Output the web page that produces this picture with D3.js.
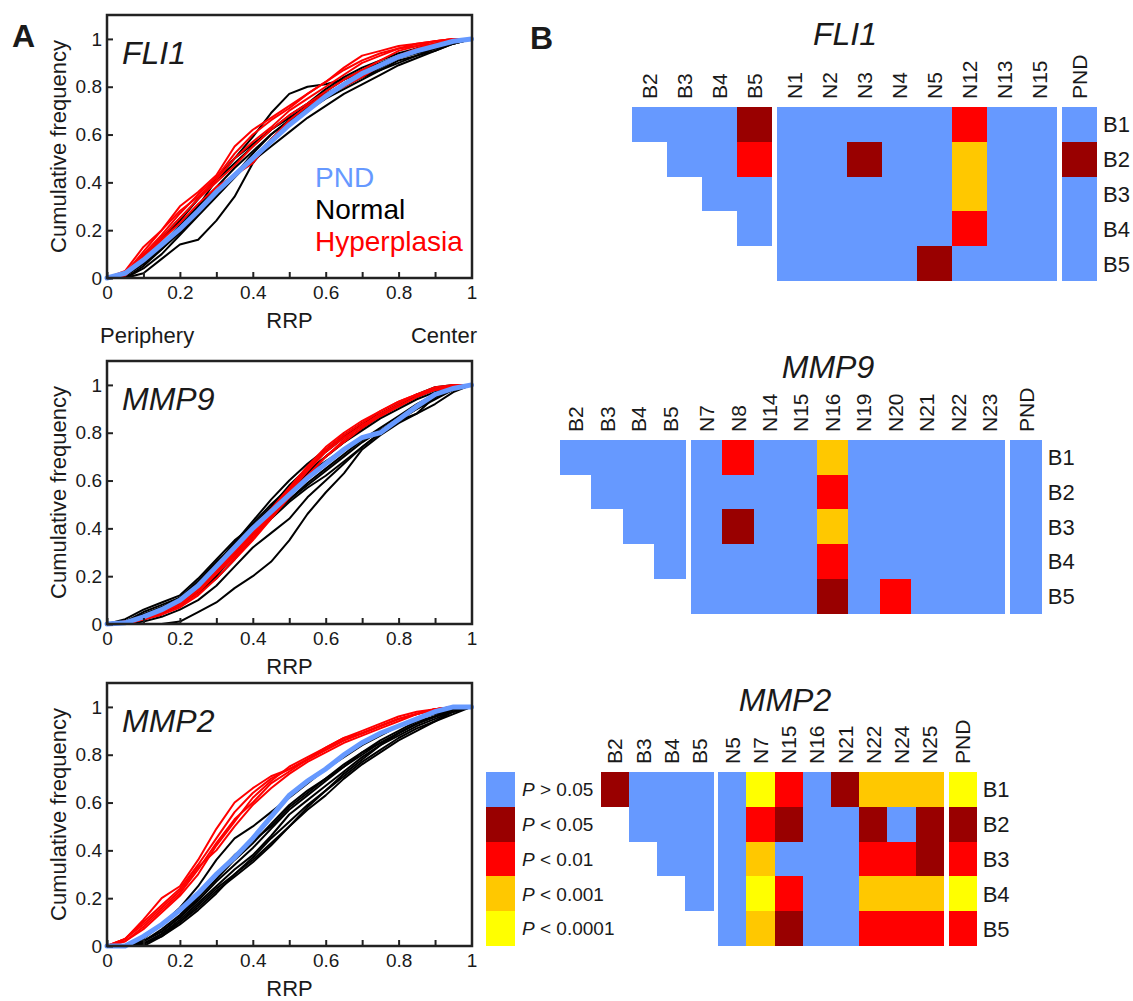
<!DOCTYPE html>
<html>

<head>
    <meta charset="UTF-8">
    <title>RRP cumulative frequency</title>
    <style>
        body { margin: 0; background: #fff; }
        svg text { font-family: "Liberation Sans", Arial, sans-serif; fill: #1a1a1a; }
    </style>
</head>

<body>
    <script src="https://cdn.jsdelivr.net/npm/d3@7/dist/d3.min.js"></script>

    <svg id="svg" width="1133" height="1001"></svg>

    <script>
        // ---- data ----
        // every curve is given as cumulative frequency at these RRP values
        const rrpGrid = [0, 0.05, 0.1, 0.15, 0.2, 0.25, 0.3, 0.35, 0.4, 0.45, 0.5, 0.55, 0.6, 0.65, 0.7, 0.75, 0.8, 0.85, 0.9, 0.95, 1];

        const fli1PND = [0, 0.02, 0.075, 0.14, 0.205, 0.28, 0.36, 0.43, 0.5, 0.57, 0.64, 0.7, 0.76, 0.81, 0.855, 0.89, 0.925, 0.95, 0.97, 0.99, 1];
        const fli1Normal = [
            [0, 0, 0.02, 0.08, 0.14, 0.16, 0.24, 0.34, 0.48, 0.57, 0.64, 0.7, 0.75, 0.79, 0.83, 0.87, 0.9, 0.93, 0.96, 0.99, 1],
            [0, 0.01, 0.06, 0.13, 0.21, 0.3, 0.41, 0.5, 0.59, 0.69, 0.77, 0.8, 0.81, 0.83, 0.86, 0.89, 0.92, 0.95, 0.97, 0.99, 1],
            [0, 0, 0.05, 0.12, 0.2, 0.28, 0.36, 0.43, 0.49, 0.55, 0.61, 0.67, 0.72, 0.77, 0.81, 0.85, 0.89, 0.92, 0.95, 0.98, 1],
            [0, 0.02, 0.08, 0.16, 0.24, 0.33, 0.42, 0.5, 0.56, 0.62, 0.67, 0.72, 0.78, 0.83, 0.87, 0.9, 0.93, 0.96, 0.98, 0.99, 1],
            [0, 0.01, 0.06, 0.12, 0.19, 0.27, 0.35, 0.43, 0.52, 0.6, 0.66, 0.72, 0.77, 0.81, 0.84, 0.87, 0.91, 0.93, 0.95, 0.98, 1],
            [0, 0.01, 0.07, 0.14, 0.22, 0.3, 0.38, 0.46, 0.53, 0.6, 0.66, 0.71, 0.76, 0.8, 0.84, 0.88, 0.92, 0.94, 0.96, 0.98, 1],
            [0, 0, 0.04, 0.1, 0.18, 0.26, 0.34, 0.42, 0.5, 0.58, 0.65, 0.71, 0.76, 0.81, 0.85, 0.89, 0.92, 0.95, 0.97, 0.99, 1],
            [0, 0.02, 0.09, 0.17, 0.25, 0.33, 0.41, 0.48, 0.55, 0.62, 0.68, 0.73, 0.79, 0.84, 0.88, 0.91, 0.94, 0.96, 0.98, 0.99, 1]
        ];
        const fli1Hyper = [
            [0, 0.03, 0.13, 0.2, 0.3, 0.36, 0.43, 0.55, 0.62, 0.67, 0.72, 0.77, 0.82, 0.88, 0.93, 0.95, 0.97, 0.98, 0.99, 1, 1],
            [0, 0.02, 0.1, 0.18, 0.27, 0.35, 0.42, 0.52, 0.6, 0.66, 0.71, 0.77, 0.82, 0.87, 0.91, 0.94, 0.96, 0.98, 0.99, 1, 1],
            [0, 0.01, 0.08, 0.16, 0.23, 0.31, 0.38, 0.43, 0.48, 0.58, 0.66, 0.72, 0.77, 0.8, 0.84, 0.89, 0.93, 0.96, 0.98, 0.99, 1],
            [0, 0.02, 0.11, 0.2, 0.28, 0.34, 0.41, 0.5, 0.57, 0.63, 0.7, 0.75, 0.8, 0.85, 0.9, 0.93, 0.96, 0.97, 0.99, 1, 1],
            [0, 0.02, 0.09, 0.17, 0.25, 0.33, 0.4, 0.47, 0.55, 0.62, 0.68, 0.73, 0.78, 0.83, 0.87, 0.91, 0.95, 0.97, 0.98, 0.99, 1]
        ];

        const mmp9PND = [0, 0.005, 0.03, 0.06, 0.1, 0.16, 0.24, 0.32, 0.4, 0.47, 0.54, 0.61, 0.67, 0.73, 0.78, 0.8, 0.855, 0.91, 0.96, 0.985, 1];
        const mmp9Normal = [
            [0, 0, 0, 0, 0.01, 0.05, 0.09, 0.15, 0.2, 0.26, 0.35, 0.46, 0.55, 0.63, 0.73, 0.79, 0.84, 0.88, 0.95, 0.98, 1],
            [0, 0, 0.01, 0.03, 0.06, 0.1, 0.16, 0.24, 0.32, 0.38, 0.44, 0.53, 0.6, 0.67, 0.74, 0.8, 0.86, 0.9, 0.94, 0.98, 1],
            [0, 0.02, 0.06, 0.09, 0.12, 0.19, 0.27, 0.35, 0.41, 0.49, 0.58, 0.65, 0.72, 0.78, 0.84, 0.88, 0.92, 0.96, 0.99, 1, 1],
            [0, 0.01, 0.05, 0.08, 0.11, 0.17, 0.25, 0.34, 0.42, 0.5, 0.57, 0.64, 0.7, 0.76, 0.81, 0.86, 0.9, 0.94, 0.97, 0.99, 1],
            [0, 0.01, 0.04, 0.07, 0.1, 0.15, 0.22, 0.31, 0.39, 0.47, 0.55, 0.63, 0.7, 0.76, 0.82, 0.87, 0.91, 0.95, 0.98, 0.99, 1],
            [0, 0, 0.02, 0.05, 0.09, 0.14, 0.21, 0.29, 0.37, 0.45, 0.52, 0.59, 0.65, 0.71, 0.77, 0.82, 0.87, 0.92, 0.96, 0.99, 1],
            [0, 0, 0.02, 0.05, 0.08, 0.13, 0.2, 0.29, 0.38, 0.48, 0.57, 0.63, 0.68, 0.73, 0.77, 0.81, 0.85, 0.88, 0.92, 0.97, 1],
            [0, 0.01, 0.03, 0.06, 0.1, 0.16, 0.25, 0.34, 0.43, 0.52, 0.6, 0.67, 0.73, 0.79, 0.84, 0.88, 0.92, 0.95, 0.98, 0.99, 1],
            [0, 0.01, 0.04, 0.07, 0.11, 0.18, 0.26, 0.33, 0.4, 0.46, 0.52, 0.58, 0.64, 0.7, 0.76, 0.81, 0.86, 0.91, 0.95, 0.99, 1],
            [0, 0, 0.02, 0.04, 0.08, 0.13, 0.19, 0.27, 0.36, 0.44, 0.51, 0.57, 0.62, 0.68, 0.74, 0.8, 0.85, 0.9, 0.95, 0.98, 1]
        ];
        const mmp9Hyper = [
            [0, 0, 0.02, 0.04, 0.07, 0.13, 0.21, 0.29, 0.37, 0.46, 0.55, 0.64, 0.72, 0.78, 0.83, 0.88, 0.92, 0.96, 0.99, 1, 1],
            [0, 0.01, 0.03, 0.05, 0.08, 0.14, 0.22, 0.3, 0.38, 0.47, 0.56, 0.65, 0.73, 0.79, 0.84, 0.89, 0.93, 0.96, 0.98, 0.99, 1],
            [0, 0, 0.02, 0.04, 0.07, 0.12, 0.19, 0.27, 0.35, 0.44, 0.53, 0.62, 0.7, 0.77, 0.83, 0.87, 0.91, 0.95, 0.98, 0.99, 1],
            [0, 0.01, 0.02, 0.05, 0.09, 0.15, 0.23, 0.31, 0.39, 0.48, 0.57, 0.66, 0.74, 0.8, 0.85, 0.89, 0.93, 0.96, 0.98, 1, 1],
            [0, 0, 0.02, 0.05, 0.08, 0.14, 0.21, 0.28, 0.36, 0.45, 0.54, 0.62, 0.7, 0.76, 0.82, 0.87, 0.91, 0.95, 0.98, 0.99, 1]
        ];

        const mmp2PND = [0, 0, 0.04, 0.09, 0.15, 0.22, 0.3, 0.37, 0.45, 0.54, 0.63, 0.69, 0.74, 0.8, 0.85, 0.89, 0.92, 0.95, 0.98, 1, 1];
        const mmp2Normal = [
            [0, 0, 0, 0.04, 0.1, 0.17, 0.24, 0.3, 0.36, 0.43, 0.5, 0.57, 0.63, 0.7, 0.76, 0.81, 0.86, 0.9, 0.94, 0.98, 1],
            [0, 0, 0.01, 0.05, 0.11, 0.18, 0.25, 0.32, 0.38, 0.46, 0.55, 0.61, 0.67, 0.73, 0.79, 0.84, 0.89, 0.93, 0.96, 0.98, 1],
            [0, 0, 0.02, 0.06, 0.12, 0.19, 0.27, 0.34, 0.41, 0.49, 0.57, 0.63, 0.69, 0.75, 0.8, 0.85, 0.89, 0.93, 0.96, 0.99, 1],
            [0, 0, 0.01, 0.05, 0.1, 0.16, 0.23, 0.29, 0.35, 0.42, 0.5, 0.58, 0.65, 0.71, 0.77, 0.82, 0.87, 0.91, 0.94, 0.97, 1],
            [0, 0, 0.03, 0.09, 0.16, 0.25, 0.36, 0.45, 0.5, 0.56, 0.62, 0.68, 0.74, 0.79, 0.84, 0.88, 0.92, 0.95, 0.97, 0.99, 1],
            [0, 0, 0.02, 0.06, 0.12, 0.2, 0.28, 0.36, 0.43, 0.51, 0.59, 0.65, 0.7, 0.76, 0.81, 0.86, 0.9, 0.94, 0.96, 0.99, 1],
            [0, 0, 0.01, 0.04, 0.09, 0.15, 0.22, 0.3, 0.37, 0.45, 0.52, 0.59, 0.65, 0.72, 0.78, 0.84, 0.88, 0.92, 0.95, 0.98, 1],
            [0, 0, 0.02, 0.07, 0.13, 0.21, 0.3, 0.38, 0.44, 0.5, 0.58, 0.64, 0.7, 0.75, 0.81, 0.85, 0.89, 0.93, 0.96, 0.99, 1]
        ];
        const mmp2Hyper = [
            [0, 0.03, 0.11, 0.2, 0.25, 0.36, 0.49, 0.6, 0.66, 0.71, 0.74, 0.78, 0.83, 0.87, 0.89, 0.92, 0.95, 0.97, 0.99, 1, 1],
            [0, 0.03, 0.1, 0.17, 0.24, 0.34, 0.45, 0.56, 0.64, 0.7, 0.74, 0.78, 0.82, 0.86, 0.89, 0.92, 0.95, 0.97, 0.99, 1, 1],
            [0, 0.02, 0.08, 0.15, 0.22, 0.32, 0.43, 0.53, 0.6, 0.68, 0.73, 0.78, 0.82, 0.86, 0.89, 0.92, 0.95, 0.97, 0.99, 1, 1],
            [0, 0.03, 0.09, 0.16, 0.23, 0.33, 0.4, 0.5, 0.59, 0.66, 0.72, 0.77, 0.81, 0.85, 0.88, 0.91, 0.94, 0.97, 0.99, 1, 1],
            [0, 0.02, 0.07, 0.14, 0.21, 0.3, 0.42, 0.52, 0.62, 0.69, 0.75, 0.79, 0.83, 0.87, 0.9, 0.93, 0.96, 0.98, 0.99, 1, 1]
        ];

        const xTickVals = [0, 0.1, 0.2, 0.3, 0.4, 0.5, 0.6, 0.7, 0.8, 0.9, 1];
        const yTickVals = [0, 0.2, 0.4, 0.6, 0.8, 1];

        // significance classes: 0 P>0.05, 1 P<0.05, 2 P<0.01, 3 P<0.001, 4 P<0.0001
        const pLabels = ["> 0.05", "< 0.05", "< 0.01", "< 0.001", "< 0.0001"];
        const pColors = ["#6699ff", "#990000", "#ff0000", "#ffc800", "#ffff00"];

        const rowNames = ["B1", "B2", "B3", "B4", "B5"];
        const bCols = ["B2", "B3", "B4", "B5"];

        const fli1NCols = ["N1", "N2", "N3", "N4", "N5", "N12", "N13", "N15"];
        const fli1BB = [[0, 0, 0, 1], [null, 0, 0, 2], [null, null, 0, 0], [null, null, null, 0], [null, null, null, null]];
        const fli1BN = [
            [0, 0, 0, 0, 0, 2, 0, 0],
            [0, 0, 1, 0, 0, 3, 0, 0],
            [0, 0, 0, 0, 0, 3, 0, 0],
            [0, 0, 0, 0, 0, 2, 0, 0],
            [0, 0, 0, 0, 1, 0, 0, 0]
        ];
        const fli1BP = [0, 1, 0, 0, 0];

        const mmp9NCols = ["N7", "N8", "N14", "N15", "N16", "N19", "N20", "N21", "N22", "N23"];
        const mmp9BB = [[0, 0, 0, 0], [null, 0, 0, 0], [null, null, 0, 0], [null, null, null, 0], [null, null, null, null]];
        const mmp9BN = [
            [0, 2, 0, 0, 3, 0, 0, 0, 0, 0],
            [0, 0, 0, 0, 2, 0, 0, 0, 0, 0],
            [0, 1, 0, 0, 3, 0, 0, 0, 0, 0],
            [0, 0, 0, 0, 2, 0, 0, 0, 0, 0],
            [0, 0, 0, 0, 1, 0, 2, 0, 0, 0]
        ];
        const mmp9BP = [0, 0, 0, 0, 0];

        const mmp2NCols = ["N5", "N7", "N15", "N16", "N21", "N22", "N24", "N25"];
        const mmp2BB = [[1, 0, 0, 0], [null, 0, 0, 0], [null, null, 0, 0], [null, null, null, 0], [null, null, null, null]];
        const mmp2BN = [
            [0, 4, 2, 0, 1, 3, 3, 3],
            [0, 2, 1, 0, 0, 1, 0, 1],
            [0, 3, 0, 0, 0, 2, 2, 1],
            [0, 4, 2, 0, 0, 3, 3, 3],
            [0, 3, 1, 0, 0, 2, 2, 2]
        ];
        const mmp2BP = [4, 1, 2, 4, 2];

        // ---- drawing ----
        const svg = d3.select("#svg");
        const plotLeft = 107, plotRight = 472, plotH = 263;

        const drawCdf = function (top, gene, pnd, normals, hypers) {
            const bottom = top + plotH;
            const x = d3.scaleLinear().domain([0, 1]).range([plotLeft, plotRight - 0.5]);
            const y = d3.scaleLinear().domain([0, 1.1]).range([bottom, top]);
            const g = svg.append("g");

            const line = d3.line()
                .x((d, i) => x(rrpGrid[i]))
                .y(d => y(d));

            g.append("g").selectAll("path").data(normals).enter().append("path")
                .attr("d", line).attr("fill", "none")
                .attr("stroke", "#000").attr("stroke-width", 2).attr("stroke-linejoin", "round");
            g.append("g").selectAll("path").data(hypers).enter().append("path")
                .attr("d", line).attr("fill", "none")
                .attr("stroke", "#ff0000").attr("stroke-width", 2).attr("stroke-linejoin", "round");
            g.append("path").datum(pnd)
                .attr("d", line).attr("fill", "none")
                .attr("stroke", "#6699ff").attr("stroke-width", 5).attr("stroke-linecap", "round");

            // inward ticks
            const fmt = d3.format("");
            const ax = g.append("g").attr("transform", `translate(0,${bottom})`)
                .call(d3.axisBottom(x).tickValues(xTickVals).tickSize(-6).tickPadding(8)
                    .tickFormat((d, i) => i % 2 ? "" : fmt(d)));
            const ay = g.append("g").attr("transform", `translate(${plotLeft},0)`)
                .call(d3.axisLeft(y).tickValues(yTickVals).tickSize(-6).tickPadding(5).tickFormat(fmt));
            [ax, ay].forEach(a => {
                a.select(".domain").remove();
                a.selectAll("line").attr("stroke", "#222").attr("stroke-width", 2);
                a.selectAll("text").attr("font-size", 19).attr("font-family", null).attr("fill", "#1a1a1a");
            });

            g.append("rect")
                .attr("x", plotLeft).attr("y", top)
                .attr("width", plotRight - plotLeft).attr("height", plotH)
                .attr("fill", "none").attr("stroke", "#222").attr("stroke-width", 2.5);

            g.append("text").attr("x", 122).attr("y", top + 49)
                .attr("font-size", 32).attr("font-style", "italic").text(gene);

            g.append("text").attr("x", (plotLeft + plotRight) / 2).attr("y", bottom + 50)
                .attr("text-anchor", "middle").attr("font-size", 22).text("RRP");

            g.append("text")
                .attr("transform", `translate(66,${(top + bottom) / 2}) rotate(-90)`)
                .attr("text-anchor", "middle").attr("font-size", 22).text("Cumulative frequency");
            return g;
        }

        const p1 = drawCdf(15, "FLI1", fli1PND, fli1Normal, fli1Hyper);
        drawCdf(361, "MMP9", mmp9PND, mmp9Normal, mmp9Hyper);
        drawCdf(683, "MMP2", mmp2PND, mmp2Normal, mmp2Hyper);

        // legend of panel A
        const legendA = [["PND", "#6699ff"], ["Normal", "#000"], ["Hyperplasia", "#ff0000"]];
        p1.selectAll(".leg").data(legendA).enter().append("text")
            .attr("x", 315).attr("y", (d, i) => 187 + i * 32)
            .attr("font-size", 28).style("fill", d => d[1]).text(d => d[0]);
        p1.append("text").attr("x", 100).attr("y", 343).attr("font-size", 22).text("Periphery");
        p1.append("text").attr("x", 477).attr("y", 343).attr("text-anchor", "end").attr("font-size", 22).text("Center");

        const drawHeat = function (opt) {
            const g = svg.append("g");
            const bEnd = opt.x0 + bCols.length * opt.colW;
            const nStart = bEnd + opt.gap;
            const nEnd = nStart + opt.nCols.length * opt.colW;
            const pStart = nEnd + opt.gap;
            const xB = d3.scaleBand().domain(bCols).range([opt.x0, bEnd]);
            const xN = d3.scaleBand().domain(opt.nCols).range([nStart, nEnd]);
            const xP = d3.scaleBand().domain(["PND"]).range([pStart, pStart + opt.colW]);
            const y = d3.scaleBand().domain(rowNames).range([opt.top, opt.top + rowNames.length * opt.rowH]);

            const cells = [];
            rowNames.forEach((r, i) => {
                bCols.forEach((c, j) => { if (opt.bb[i][j] != null) cells.push({ r: r, x: xB(c), w: xB.bandwidth(), v: opt.bb[i][j] }); });
                opt.nCols.forEach((c, j) => cells.push({ r: r, x: xN(c), w: xN.bandwidth(), v: opt.bn[i][j] }));
                cells.push({ r: r, x: xP("PND"), w: xP.bandwidth(), v: opt.bp[i] });
            });
            // snap cell edges to whole pixels so neighbours meet without seams
            g.selectAll("rect").data(cells).enter().append("rect")
                .attr("x", d => Math.round(d.x))
                .attr("y", d => Math.round(y(d.r)))
                .attr("width", d => Math.round(d.x + d.w) - Math.round(d.x))
                .attr("height", d => Math.round(y(d.r) + y.bandwidth()) - Math.round(y(d.r)))
                .attr("shape-rendering", "crispEdges")
                .attr("fill", d => pColors[d.v]);

            const cols = bCols.map(c => [c, xB(c) + xB.bandwidth() / 2])
                .concat(opt.nCols.map(c => [c, xN(c) + xN.bandwidth() / 2]))
                .concat([["PND", xP("PND") + xP.bandwidth() / 2]]);
            g.selectAll(".col").data(cols).enter().append("text")
                .attr("transform", d => `translate(${d[1]},${opt.top - 8}) rotate(-90)`)
                .attr("dy", "0.36em").attr("font-size", 21).text(d => d[0]);

            g.selectAll(".row").data(rowNames).enter().append("text")
                .attr("x", pStart + opt.colW + 6).attr("y", d => y(d) + y.bandwidth() / 2)
                .attr("dy", "0.36em").attr("font-size", 22).text(d => d);

            g.append("text").attr("x", opt.titleX).attr("y", opt.titleY)
                .attr("text-anchor", "middle").attr("font-size", 32).attr("font-style", "italic").text(opt.title);
            return y;
        }

        drawHeat({ title: "FLI1", nCols: fli1NCols, bb: fli1BB, bn: fli1BN, bp: fli1BP, x0: 632, colW: 35, gap: 5, top: 107, rowH: 34.8, titleX: 845, titleY: 45 });
        drawHeat({ title: "MMP9", nCols: mmp9NCols, bb: mmp9BB, bn: mmp9BN, bp: mmp9BP, x0: 560, colW: 31.45, gap: 5, top: 440, rowH: 34.7, titleX: 828, titleY: 378 });
        const yL = drawHeat({ title: "MMP2", nCols: mmp2NCols, bb: mmp2BB, bn: mmp2BN, bp: mmp2BP, x0: 600.7, colW: 28.2, gap: 4.7, top: 772, rowH: 34.8, titleX: 785, titleY: 711 });

        // P-value legend, aligned with the MMP2 rows
        const leg = svg.append("g").selectAll("g").data(pLabels).enter().append("g");
        leg.append("rect").attr("x", 486).attr("y", (d, i) => Math.round(yL(rowNames[i])))
            .attr("width", 29)
            .attr("height", (d, i) => Math.round(yL(rowNames[i]) + yL.bandwidth()) - Math.round(yL(rowNames[i])))
            .attr("shape-rendering", "crispEdges")
            .attr("fill", (d, i) => pColors[i]);
        const lt = leg.append("text").attr("x", 522).attr("y", (d, i) => yL(rowNames[i]) + yL.bandwidth() / 2)
            .attr("dy", "0.36em").attr("font-size", 19);
        lt.append("tspan").attr("font-style", "italic").text("P");
        lt.append("tspan").text(d => " " + d);

        svg.append("text").attr("x", 12).attr("y", 47).attr("font-size", 32).attr("font-weight", "bold").text("A");
        svg.append("text").attr("x", 530).attr("y", 49).attr("font-size", 32).attr("font-weight", "bold").text("B");
    </script>

</body>

</html>
